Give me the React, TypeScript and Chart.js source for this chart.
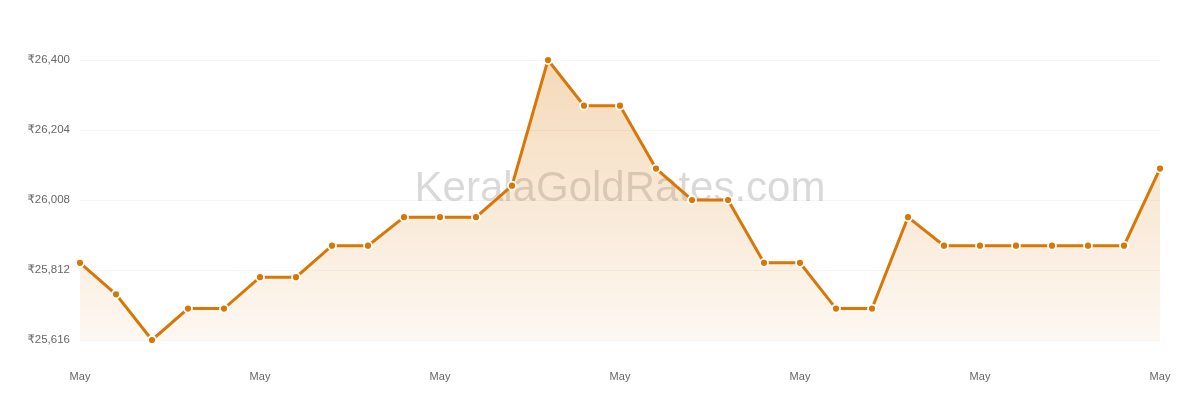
import React, { useEffect, useRef } from "react";
import { Chart, registerables } from "chart.js";

Chart.register(...registerables);

const labels: string[] = Array.from({ length: 31 }, (_, i) => `May ${i + 1}`);
const rates: number[] = [
  25832, 25744, 25616, 25704, 25704, 25792, 25792, 25880, 25880, 25960, 25960,
  25960, 26048, 26400, 26272, 26272, 26096, 26008, 26008, 25832, 25832, 25704,
  25704, 25960, 25880, 25880, 25880, 25880, 25880, 25880, 26096,
];
const yMin = 25616;
const yMax = 26400;
const yStep = 196;
const watermarkText = "KeralaGoldRates.com";

const FONT = "'Liberation Sans', Arial, 'DejaVu Sans', sans-serif";

export default function App() {
  const ref = useRef<HTMLCanvasElement | null>(null);
  useEffect(() => {
    if (!ref.current) return;
    const watermark = {
      id: "watermark",
      beforeDatasetsDraw(chart: any) {
        const { ctx, chartArea } = chart;
        ctx.save();
        ctx.font = `42px ${FONT}`;
        ctx.fillStyle = "rgba(0,0,0,0.15)";
        ctx.textAlign = "center";
        ctx.textBaseline = "alphabetic";
        ctx.fillText(watermarkText, (chartArea.left + chartArea.right) / 2, 193);
        ctx.restore();
      },
    };
    const chart = new Chart(ref.current, {
      type: "line",
      data: {
        labels,
        datasets: [
          {
            data: rates,
            borderColor: "#d97706",
            borderWidth: 3,
            pointBackgroundColor: "#d97706",
            pointBorderColor: "#ffffff",
            pointBorderWidth: 1.8,
            pointRadius: 4,
            tension: 0,
            fill: "start",
            clip: false as any,
            backgroundColor: (c: any) => {
              const { chart } = c;
              const area = chart.chartArea;
              if (!area) return "rgba(217,119,6,0.15)";
              const g = chart.ctx.createLinearGradient(0, area.top, 0, area.bottom);
              g.addColorStop(0, "rgba(217,119,6,0.28)");
              g.addColorStop(1, "rgba(217,119,6,0.05)");
              return g;
            },
          },
        ],
      },
      options: {
        animation: false,
        responsive: true,
        maintainAspectRatio: false,
        layout: { padding: { top: 52, right: 32, left: 0, bottom: 0 } },
        plugins: { legend: { display: false }, tooltip: { enabled: false } },
        scales: {
          x: {
            grid: { display: false, drawTicks: true, tickLength: 27 },
            border: { display: false },
            ticks: {
              autoSkip: false,
              maxRotation: 0,
              padding: 3,
              color: "#666",
              font: { family: FONT, size: 11 },
              callback: (_v: any, i: number) =>
                i % 5 === 0 ? labels[i].split(" ")[0] : null,
            },
            afterFit: (s: any) => {
              s.height = 52;
            },
          },
          y: {
            min: yMin,
            max: yMax,
            grid: { color: "#f5f5f5", drawTicks: false },
            border: { display: false },
            ticks: {
              stepSize: yStep,
              padding: 10,
              color: "#666",
              font: { family: FONT, size: 11.5 },
              callback: (v: any) => "₹" + Number(v).toLocaleString("en-IN"),
            },
            afterFit: (s: any) => {
              s.width = 72;
            },
          },
        },
      },
      plugins: [watermark],
    });
    return () => chart.destroy();
  }, []);
  return (
    <div style={{ width: "1184px", height: "384px", position: "relative" }}>
      <canvas ref={ref} />
    </div>
  );
}
